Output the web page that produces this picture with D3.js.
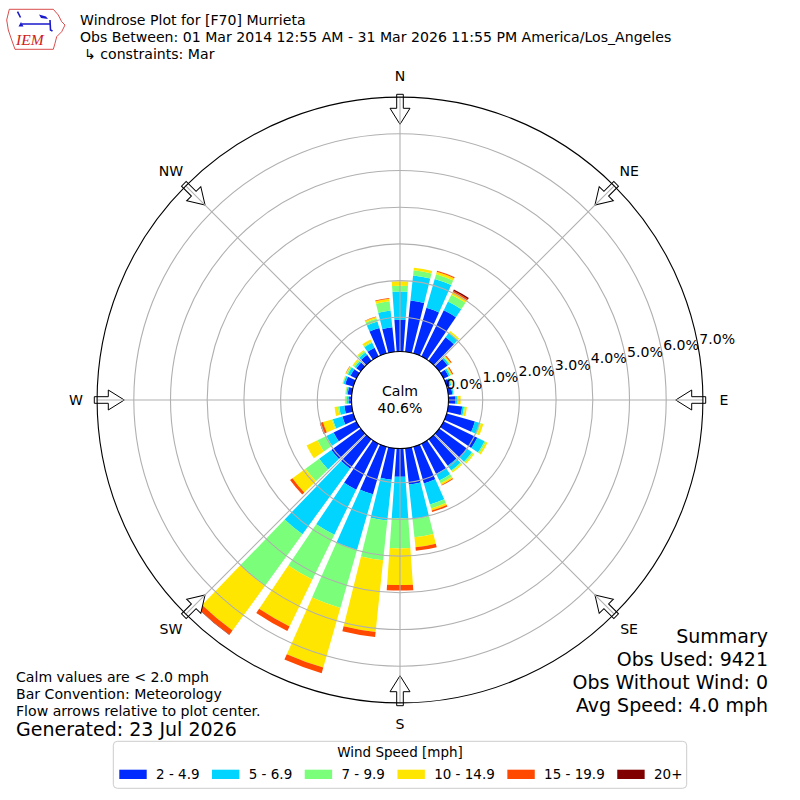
<!DOCTYPE html>
<html>
<head>
<meta charset="utf-8">
<script src="https://cdn.jsdelivr.net/npm/d3@7"></script>
<style>
  body { margin: 0; background: #fff; }
  svg { display: block; font-family: "DejaVu Sans", sans-serif; }
</style>
</head>
<body>
<div id="chart"></div>
<script>
// Directions of the bars (degrees from north) and the speed bins
const directions = [0, 10, 20, 30, 40, 50, 60, 70, 80, 90, 100, 110, 120, 130, 140, 150, 160, 170,
                    180, 190, 200, 210, 220, 230, 240, 250, 260, 270, 280, 290, 300, 310, 320, 330, 340, 350];
const speedBins = ["2 - 4.9", "5 - 6.9", "7 - 9.9", "10 - 14.9", "15 - 19.9", "20+"];
const binColors = ["#002bff", "#00d4ff", "#7bff7b", "#ffe600", "#ff4800", "#800000"];

// Percent of observations per direction, one list per speed bin
const freq2to5 = [0.93, 1.47, 1.36, 1.47, 0.86, 0.35, 0.22, 0.16, 0.18, 0.26, 0.45, 0.87, 1.09, 1.01, 0.96, 0.99, 1.11, 1.06,
                  0.84, 0.93, 1.42, 1.47, 1.06, 1.06, 0.76, 0.38, 0.27, 0.14, 0.18, 0.30, 0.25, 0.22, 0.27, 0.33, 0.79, 0.74];
const freq5to7 = [0.77, 0.69, 0.82, 0.26, 0.14, 0.05, 0.05, 0.04, 0.03, 0.04, 0.05, 0.14, 0.22, 0.16, 0.16, 0.20, 0.60, 0.95,
                  1.13, 1.12, 1.58, 1.36, 2.21, 0.41, 0.22, 0.27, 0.14, 0.05, 0.04, 0.05, 0.08, 0.05, 0.08, 0.15, 0.18, 0.46];
const freq7to10 = [0.16, 0.14, 0.13, 0.21, 0.03, 0.03, 0.03, 0.02, 0.01, 0.03, 0.03, 0.03, 0.04, 0.04, 0.03, 0.08, 0.11, 0.50,
                   0.82, 1.09, 1.64, 1.36, 1.74, 0.46, 0.27, 0.03, 0.04, 0.03, 0.02, 0.02, 0.04, 0.04, 0.05, 0.03, 0.09, 0.25];
const freq10to15 = [0.12, 0.07, 0.07, 0.08, 0.04, 0.03, 0.03, 0.02, 0.01, 0.07, 0.05, 0.07, 0.05, 0.04, 0.04, 0.05, 0.06, 0.27,
                    1.00, 1.96, 1.69, 1.42, 1.50, 0.44, 0.33, 0.25, 0.09, 0.03, 0.01, 0.01, 0.02, 0.04, 0.03, 0.07, 0.04, 0.07];
const freq15to20 = [0, 0, 0.03, 0.04, 0, 0.03, 0.03, 0, 0, 0, 0, 0, 0, 0, 0, 0.02, 0.04, 0.10,
                    0.15, 0.14, 0.16, 0.14, 0.14, 0.08, 0, 0.08, 0, 0, 0, 0, 0.01, 0, 0, 0, 0.01, 0.02];
const freq20plus = [0, 0, 0, 0.04, 0, 0, 0, 0, 0, 0, 0, 0, 0, 0, 0, 0, 0, 0,
                    0, 0, 0, 0, 0.01, 0, 0, 0.01, 0, 0, 0, 0, 0, 0, 0, 0, 0, 0];

const ringTicks = [0, 1, 2, 3, 4, 5, 6, 7];
const compassAngles = [0, 45, 90, 135, 180, 225, 270, 315];
const compassLabels = ["N", "NE", "E", "SE", "S", "SW", "W", "NW"];

const titleLines = ["Windrose Plot for [F70] Murrieta",
                    "Obs Between: 01 Mar 2014 12:55 AM - 31 Mar 2026 11:55 PM America/Los_Angeles",
                    "\u21B3 constraints: Mar"];
const calmText = ["Calm", "40.6%"];
const noteLines = ["Calm values are < 2.0 mph", "Bar Convention: Meteorology", "Flow arrows relative to plot center."];
const generatedText = "Generated: 23 Jul 2026";
const summaryLines = ["Summary", "Obs Used: 9421", "Obs Without Wind: 0", "Avg Speed: 4.0 mph"];

const width = 800, height = 800;
const cx = 400, cy = 400;
const rad = deg => deg * Math.PI / 180;
const fs = 14.1;

let svg = d3.select("#chart").append("svg")
    .attr("width", width)
    .attr("height", height);

// Radial scale: percent -> pixels
const rScale = d3.scaleLinear().domain([0, 7]).range([46, 302.9]);

// Build table for the stack
const rows = directions.map((dir, i) => ({
    dir: dir,
    [speedBins[0]]: freq2to5[i],
    [speedBins[1]]: freq5to7[i],
    [speedBins[2]]: freq7to10[i],
    [speedBins[3]]: freq10to15[i],
    [speedBins[4]]: freq15to20[i],
    [speedBins[5]]: freq20plus[i]
}));
const series = d3.stack().keys(speedBins)(rows);
const color = d3.scaleOrdinal().domain(speedBins).range(binColors);

let rose = svg.append("g").attr("transform", `translate(${cx},${cy})`);

// Bars
const arc = d3.arc()
    .innerRadius(d => rScale(d[0]))
    .outerRadius(d => rScale(d[1]))
    .startAngle(d => rad(d.data.dir - 4))
    .endAngle(d => rad(d.data.dir + 4));

rose.selectAll("g.bin")
    .data(series)
    .join("g")
    .attr("class", "bin")
    .attr("fill", d => color(d.key))
    .selectAll("path")
    .data(d => d.filter(s => s[1] > s[0]))
    .join("path")
    .attr("d", arc);

// Flow arrows (pointing to the centre)
const arrowPts = [[0, 275.7], [-10, 291.7], [-3.3, 291.7], [-3.3, 305.7], [3.3, 305.7], [3.3, 291.7], [10, 291.7]];
rose.selectAll("path.arrow")
    .data(compassAngles)
    .join("path")
    .attr("class", "arrow")
    .attr("d", "M" + arrowPts.map(p => `${p[0]},${-p[1]}`).join("L") + "Z")
    .attr("transform", d => `rotate(${d})`)
    .attr("fill", "#fff")
    .attr("stroke", "#000")
    .attr("stroke-width", 1);

// Grid
rose.selectAll("line.spoke")
    .data(compassAngles)
    .join("line")
    .attr("class", "spoke")
    .attr("x1", 0).attr("y1", 0)
    .attr("x2", d => rScale(7) * Math.sin(rad(d)))
    .attr("y2", d => -rScale(7) * Math.cos(rad(d)))
    .attr("stroke", "#b0b0b0")
    .attr("stroke-width", 1.1);

rose.selectAll("circle.ring")
    .data(ringTicks.slice(1, 7))
    .join("circle")
    .attr("class", "ring")
    .attr("r", d => rScale(d))
    .attr("fill", "none")
    .attr("stroke", "#b0b0b0")
    .attr("stroke-width", 1.1);

rose.append("circle")
    .attr("r", rScale(7))
    .attr("fill", "none")
    .attr("stroke", "#000")
    .attr("stroke-width", 1.1);

// Calm circle
rose.append("circle")
    .attr("r", 48.5)
    .attr("fill", "#fff")
    .attr("stroke", "#000")
    .attr("stroke-width", 1.1);

rose.selectAll("text.calm")
    .data(calmText)
    .join("text")
    .attr("class", "calm")
    .attr("x", 0)
    .attr("y", (d, i) => -4 + i * 17)
    .attr("text-anchor", "middle")
    .attr("font-size", fs)
    .text(d => d);

// Ring labels at 80 degrees
const labelAngle = rad(80);
rose.selectAll("text.rlabel")
    .data(ringTicks)
    .join("text")
    .attr("class", "rlabel")
    .attr("x", d => rScale(d) * Math.sin(labelAngle) + 1)
    .attr("y", d => -rScale(d) * Math.cos(labelAngle) - 3.4)
    .attr("font-size", fs)
    .text(d => d.toFixed(1) + "%");

// Compass labels
rose.selectAll("text.compass")
    .data(compassAngles)
    .join("text")
    .attr("class", "compass")
    .attr("x", d => 324 * Math.sin(rad(d)))
    .attr("y", d => -324 * Math.cos(rad(d)) + 5)
    .attr("text-anchor", "middle")
    .attr("font-size", fs)
    .text((d, i) => compassLabels[i]);

// IEM logo
let logo = svg.append("g");
logo.append("path")
    .attr("d", "M9.3,9.3 L53.3,9.3 L58.3,15 L61.7,21.7 L65,25 L61.7,31.7 L56.7,36.7 L55,43.3 L53.3,49.3 L15,49.3 L11.7,40 L8.3,30 L6.7,20 Z")
    .attr("fill", "none")
    .attr("stroke", "#d02020")
    .attr("stroke-width", 0.8);
logo.append("path")
    .attr("d", "M17.5,11.7 L20.5,17.5 M22,24 L50,24 M50,20 L50.5,30 L52.5,31")
    .attr("fill", "none")
    .attr("stroke", "#1a1acc")
    .attr("stroke-width", 1.6);
logo.append("path")
    .attr("d", "M18.5,26.5 L21,22 L23.5,26.5 Z M39,14.5 L46,16.5 L48,19 L41,18 Z")
    .attr("fill", "#1a1acc");
logo.append("text")
    .attr("x", 16)
    .attr("y", 45)
    .attr("font-family", "Liberation Serif, serif")
    .attr("font-style", "italic")
    .attr("font-size", 15.5)
    .attr("fill", "#d02020")
    .text("IEM");

// Title
svg.selectAll("text.title")
    .data(titleLines)
    .join("text")
    .attr("class", "title")
    .attr("x", (d, i) => i === 2 ? 84 : 80)
    .attr("y", (d, i) => 25 + i * 17)
    .attr("font-size", fs)
    .text(d => d);

// Notes bottom left
svg.selectAll("text.note")
    .data(noteLines)
    .join("text")
    .attr("class", "note")
    .attr("x", 16)
    .attr("y", (d, i) => 682 + i * 17)
    .attr("font-size", fs)
    .text(d => d);

svg.append("text")
    .attr("x", 16)
    .attr("y", 736)
    .attr("font-size", 19)
    .text(generatedText);

// Summary bottom right
svg.selectAll("text.summary")
    .data(summaryLines)
    .join("text")
    .attr("class", "summary")
    .attr("x", 768)
    .attr("y", (d, i) => 642.8 + i * 23)
    .attr("text-anchor", "end")
    .attr("font-size", 19)
    .text(d => d);

// Legend
let legend = svg.append("g");
legend.append("rect")
    .attr("x", 113.3).attr("y", 741.3)
    .attr("width", 573.4).attr("height", 47)
    .attr("rx", 4)
    .attr("fill", "#fff")
    .attr("stroke", "#cccccc")
    .attr("stroke-width", 1);
legend.append("text")
    .attr("x", 400).attr("y", 757)
    .attr("text-anchor", "middle")
    .attr("font-size", 13.5)
    .text("Wind Speed [mph]");

let lx = 119.3;
speedBins.forEach(function(bin) {
    legend.append("rect")
        .attr("x", lx).attr("y", 769.7)
        .attr("width", 27.4).attr("height", 9.3)
        .attr("fill", color(bin));
    let t = legend.append("text")
        .attr("x", lx + 36.7).attr("y", 778.7)
        .attr("font-size", 13.5)
        .text(bin);
    lx = lx + 36.7 + t.node().getComputedTextLength() + 12.5;
});
</script>
</body>
</html>
